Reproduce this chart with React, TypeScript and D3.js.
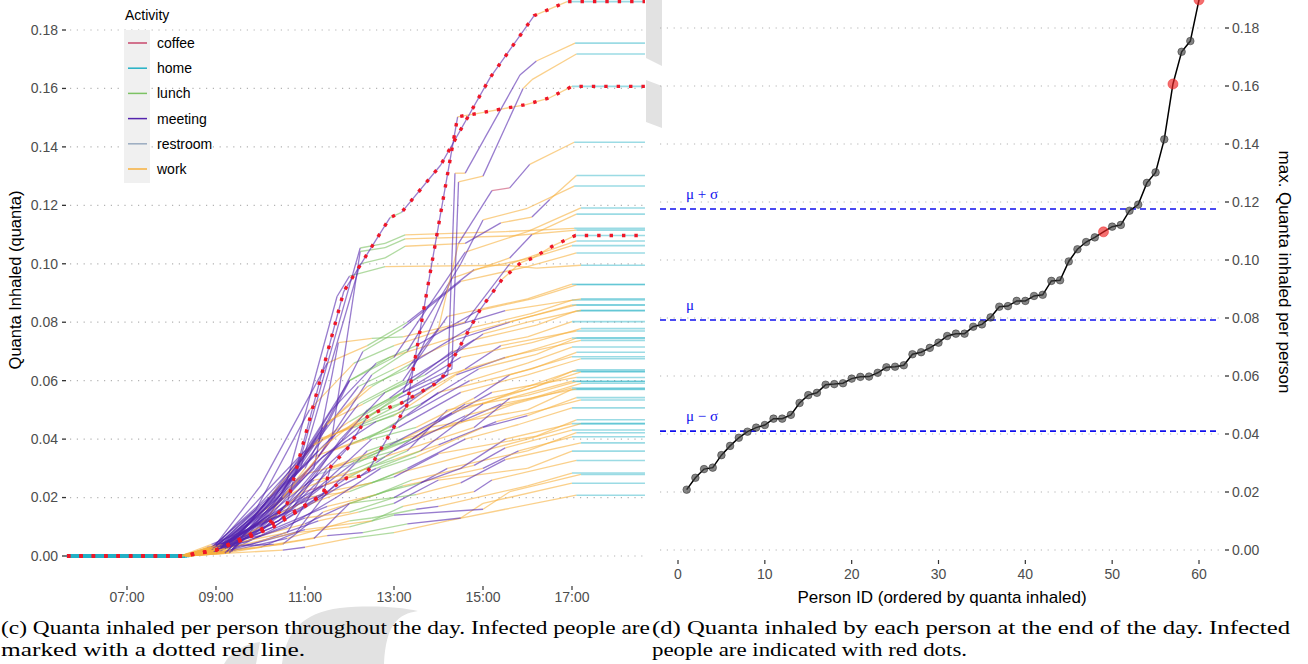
import React from 'react';
import * as d3 from 'd3';

// ---------- data ----------
const activities = ['coffee', 'home', 'lunch', 'meeting', 'restroom', 'work'];
const activityColors = ['#c8486c', '#22b0c4', '#7cc263', '#5424ad', '#9aabc0', '#f7b03e'];
const activityCode: Record<string, string> = { c: 'coffee', h: 'home', l: 'lunch', m: 'meeting', r: 'restroom', w: 'work' };

// final quanta inhaled by each person (sorted)
const finalQuanta = [
  0.0208, 0.0249, 0.0279, 0.0284, 0.0327, 0.0359, 0.0387, 0.0408, 0.0422, 0.0431,
  0.0453, 0.0453, 0.0466, 0.0507, 0.0534, 0.0542, 0.0570, 0.0572, 0.0575, 0.0591,
  0.0597, 0.0598, 0.0611, 0.0630, 0.0632, 0.0637, 0.0675, 0.0682, 0.0697, 0.0715,
  0.0738, 0.0746, 0.0746, 0.0770, 0.0778, 0.0802, 0.0839, 0.0841, 0.0859, 0.0859,
  0.0876, 0.0880, 0.0928, 0.0930, 0.0995, 0.1037, 0.1062, 0.1078, 0.1097, 0.1115,
  0.1121, 0.1170, 0.1191, 0.1266, 0.1302, 0.1416, 0.1607, 0.1718, 0.1755, 0.1897,
];
const infectedIds = [49, 57, 60];
const muValue = 0.0793;
const sigmaValue = 0.0383;
const dayStart = 5.65;
const dayEnd = 18.64;

// hour at which each person goes home
const homeArrival = [
  17.1, 17.0, 17.2, 17.0, 17.1, 17.0, 17.2, 17.0, 17.1, 17.0,
  17.2, 17.0, 17.1, 17.0, 17.2, 17.1, 17.0, 17.1, 17.0, 17.2,
  17.1, 17.0, 17.1, 17.2, 17.0, 17.1, 17.2, 17.0, 17.1, 17.0,
  17.2, 17.1, 17.0, 17.1, 17.2, 17.0, 17.1, 17.2, 17.0, 17.1,
  17.0, 17.2, 17.1, 17.0, 17.2, 17.1, 17.0, 17.1, 17.08, 17.1,
  17.05, 17.1, 17.2, 17.05, 17.1, 17.05, 17.0, 17.1, 17.07, 16.89,
];

type WP = [number, number, string];
// waypoints per person: [hour, quanta, activity code of the segment ending here]
const personPaths: WP[][] = [
  [[8.3,0,'h'],[9.3,0.001,'w'],[10.5,0.002,'w'],[11.0,0.003,'m'],[12.0,0.006,'w'],[13.0,0.008,'l'],[14.2,0.012,'w'],[15.5,0.016,'w']],
  [[8.2,0,'h'],[8.9,0.003,'w'],[10.3,0.004,'m'],[11.5,0.007,'w'],[12.3,0.008,'m'],[13.3,0.011,'l'],[14.5,0.013,'m'],[15.0,0.018,'w']],
  [[8.4,0,'h'],[9.2,0.0015,'w'],[10.0,0.003,'w'],[10.8,0.008,'m'],[12.0,0.010,'w'],[13.0,0.014,'l'],[15.0,0.016,'m'],[15.6,0.022,'w']],
  [[8.2,0,'h'],[9.4,0.002,'w'],[10.6,0.006,'m'],[12.0,0.012,'w'],[12.5,0.013,'l'],[13.5,0.016,'l'],[14.0,0.017,'m'],[16.0,0.024,'w']],
  [[8.3,0,'h'],[8.8,0.003,'w'],[9.8,0.004,'m'],[11.0,0.009,'m'],[12.5,0.012,'w'],[13.2,0.017,'l'],[14.8,0.022,'w'],[15.2,0.026,'m']],
  [[8.2,0,'h'],[9.1,0.001,'w'],[10.2,0.006,'m'],[11.3,0.012,'m'],[12.2,0.015,'w'],[13.0,0.018,'l'],[14.0,0.026,'m'],[16.0,0.030,'w']],
  [[8.3,0,'h'],[9.0,0.004,'w'],[10.0,0.007,'m'],[11.0,0.011,'w'],[12.0,0.018,'m'],[13.5,0.021,'l'],[14.5,0.025,'w'],[15.5,0.033,'m']],
  [[8.25,0,'h'],[9.3,0.002,'w'],[10.5,0.004,'w'],[11.4,0.015,'m'],[12.4,0.020,'w'],[13.2,0.024,'l'],[15.0,0.030,'w'],[15.8,0.036,'m']],
  [[8.2,0,'h'],[8.9,0.0025,'w'],[9.7,0.005,'m'],[11.0,0.013,'m'],[12.0,0.015,'w'],[13.0,0.020,'l'],[14.2,0.030,'m'],[16.0,0.036,'w']],
  [[8.35,0,'h'],[9.2,0.001,'w'],[10.4,0.010,'m'],[11.5,0.017,'m'],[12.6,0.021,'w'],[13.4,0.026,'l'],[14.8,0.031,'w'],[15.5,0.037,'m']],
  [[8.2,0,'h'],[9.0,0.003,'w'],[10.0,0.009,'m'],[11.0,0.020,'m'],[12.0,0.022,'w'],[13.0,0.028,'l'],[15.0,0.036,'w'],[16.0,0.040,'w']],
  [[8.3,0,'h'],[9.4,0.0015,'w'],[11.2,0.006,'w'],[12.0,0.018,'m'],[12.8,0.022,'l'],[13.6,0.025,'l'],[14.5,0.030,'m'],[15.5,0.040,'m']],
  [[8.2,0,'h'],[8.85,0.002,'w'],[10.1,0.012,'m'],[10.8,0.016,'m'],[12.2,0.024,'w'],[13.0,0.027,'l'],[14.0,0.035,'m'],[16.2,0.041,'w']],
  [[8.25,0,'h'],[9.15,0.0035,'w'],[10.3,0.014,'m'],[11.5,0.022,'m'],[12.5,0.025,'w'],[13.3,0.030,'l'],[14.6,0.040,'m'],[15.8,0.045,'w']],
  [[8.3,0,'h'],[9.0,0.001,'w'],[9.9,0.008,'m'],[11.2,0.026,'m'],[12.0,0.028,'w'],[13.0,0.033,'l'],[14.0,0.038,'w'],[15.3,0.046,'m']],
  [[8.2,0,'h'],[9.3,0.003,'w'],[10.6,0.010,'m'],[11.7,0.020,'m'],[12.7,0.030,'m'],[13.5,0.034,'l'],[15.0,0.044,'w'],[16.0,0.048,'m']],
  [[8.3,0,'h'],[8.9,0.0015,'w'],[10.0,0.010,'m'],[11.0,0.022,'m'],[12.0,0.027,'c'],[12.6,0.032,'l'],[13.8,0.044,'m'],[16.0,0.050,'w']],
  [[8.2,0,'h'],[9.2,0.004,'w'],[10.4,0.012,'m'],[11.6,0.030,'m'],[12.4,0.034,'w'],[13.4,0.040,'l'],[14.5,0.046,'w'],[15.4,0.052,'m']],
  [[8.4,0,'h'],[9.05,0.002,'w'],[10.8,0.008,'w'],[11.4,0.020,'m'],[12.4,0.036,'m'],[13.2,0.040,'l'],[14.4,0.045,'w'],[15.7,0.052,'w']],
  [[8.2,0,'h'],[8.8,0.001,'w'],[9.8,0.010,'m'],[10.9,0.018,'w'],[12.1,0.032,'m'],[13.0,0.036,'l'],[14.6,0.048,'m'],[16.1,0.054,'w']],
  [[8.3,0,'h'],[9.25,0.003,'w'],[10.2,0.014,'m'],[11.4,0.024,'m'],[12.4,0.030,'w'],[13.3,0.036,'l'],[14.2,0.050,'m'],[16.0,0.055,'w']],
  [[8.2,0,'h'],[9.0,0.0025,'w'],[10.5,0.016,'m'],[11.1,0.024,'w'],[12.0,0.029,'w'],[12.8,0.034,'l'],[14.8,0.044,'w'],[15.6,0.054,'m']],
  [[8.25,0,'h'],[9.35,0.0015,'w'],[10.0,0.012,'m'],[11.3,0.028,'m'],[12.2,0.032,'r'],[13.2,0.040,'l'],[14.0,0.046,'w'],[15.2,0.056,'m']],
  [[8.35,0,'h'],[8.95,0.003,'w'],[10.6,0.008,'w'],[11.5,0.030,'m'],[12.6,0.036,'w'],[13.4,0.040,'l'],[14.6,0.052,'m'],[16.0,0.057,'w']],
  [[8.2,0,'h'],[9.1,0.002,'w'],[10.1,0.014,'m'],[11.0,0.028,'m'],[12.0,0.032,'w'],[12.9,0.038,'l'],[14.3,0.049,'m'],[16.2,0.058,'w']],
  [[8.3,0,'h'],[9.4,0.004,'w'],[10.3,0.010,'m'],[11.8,0.024,'m'],[12.6,0.030,'m'],[13.6,0.036,'l'],[15.0,0.052,'m'],[16.0,0.058,'w']],
  [[8.2,0,'h'],[8.9,0.001,'w'],[10.0,0.016,'m'],[11.2,0.034,'m'],[12.3,0.040,'w'],[13.1,0.044,'l'],[14.5,0.056,'m'],[16.0,0.062,'w']],
  [[8.25,0,'h'],[9.2,0.0025,'w'],[10.4,0.012,'m'],[11.5,0.026,'m'],[12.5,0.040,'m'],[13.5,0.044,'l'],[14.8,0.054,'w'],[15.6,0.062,'m']],
  [[8.3,0,'h'],[9.0,0.0035,'w'],[9.9,0.014,'m'],[11.0,0.024,'w'],[12.0,0.038,'m'],[12.9,0.044,'l'],[14.0,0.056,'m'],[16.1,0.064,'w']],
  [[8.2,0,'h'],[9.3,0.0015,'w'],[10.6,0.018,'m'],[11.6,0.036,'m'],[12.4,0.040,'w'],[13.3,0.048,'l'],[14.7,0.060,'m'],[16.0,0.066,'w']],
  [[8.35,0,'h'],[8.85,0.002,'w'],[10.2,0.016,'m'],[11.1,0.030,'m'],[12.2,0.044,'m'],[13.0,0.048,'l'],[14.4,0.062,'w'],[15.5,0.068,'m']],
  [[8.2,0,'h'],[9.15,0.003,'w'],[10.0,0.010,'w'],[11.4,0.034,'m'],[12.6,0.046,'m'],[13.6,0.052,'l'],[14.9,0.064,'m'],[16.2,0.069,'w']],
  [[8.3,0,'h'],[9.0,0.001,'w'],[10.4,0.020,'m'],[11.3,0.040,'m'],[12.1,0.044,'w'],[13.1,0.050,'l'],[14.2,0.062,'m'],[16.0,0.070,'w']],
  [[8.25,0,'h'],[9.25,0.0025,'w'],[10.1,0.018,'m'],[11.7,0.042,'m'],[12.5,0.047,'w'],[13.4,0.054,'l'],[14.6,0.064,'w'],[15.4,0.072,'m']],
  [[8.2,0,'h'],[8.9,0.004,'w'],[10.5,0.014,'m'],[11.2,0.028,'m'],[12.4,0.050,'m'],[13.2,0.056,'l'],[14.5,0.068,'m'],[16.1,0.073,'w']],
  [[8.3,0,'h'],[9.1,0.0015,'w'],[9.8,0.012,'m'],[11.0,0.036,'m'],[12.0,0.046,'w'],[12.9,0.054,'l'],[14.3,0.070,'m'],[16.0,0.075,'w']],
  [[8.2,0,'h'],[9.35,0.002,'w'],[10.3,0.020,'m'],[11.5,0.046,'m'],[12.3,0.052,'w'],[13.3,0.060,'l'],[14.8,0.074,'m'],[16.2,0.079,'w']],
  [[8.35,0,'h'],[9.0,0.003,'w'],[10.7,0.016,'m'],[11.8,0.040,'m'],[12.8,0.056,'m'],[13.7,0.062,'l'],[15.0,0.076,'m'],[16.0,0.080,'w']],
  [[8.2,0,'h'],[8.8,0.0015,'w'],[10.0,0.018,'m'],[11.3,0.040,'m'],[12.2,0.058,'m'],[13.0,0.064,'l'],[14.4,0.074,'w'],[15.6,0.080,'m']],
  [[8.3,0,'h'],[9.2,0.0035,'w'],[10.2,0.014,'m'],[11.0,0.030,'w'],[12.0,0.060,'m'],[12.9,0.068,'l'],[14.6,0.076,'w'],[15.8,0.081,'w']],
  [[8.25,0,'h'],[9.05,0.002,'w'],[10.5,0.022,'m'],[11.4,0.044,'m'],[12.5,0.058,'w'],[13.4,0.066,'l'],[14.7,0.078,'m'],[16.1,0.083,'w']],
  [[8.2,0,'h'],[8.9,0.003,'w'],[9.9,0.016,'m'],[11.1,0.050,'m'],[12.1,0.066,'w'],[13.0,0.072,'l'],[14.2,0.078,'w'],[15.5,0.084,'m']],
  [[8.3,0,'h'],[9.3,0.001,'w'],[10.4,0.020,'m'],[11.6,0.050,'m'],[12.6,0.066,'m'],[13.5,0.072,'l'],[14.9,0.084,'m'],[16.1,0.088,'w']],
  [[8.2,0,'h'],[9.1,0.0025,'w'],[10.1,0.016,'m'],[11.1,0.030,'m'],[12.2,0.052,'m'],[13.2,0.060,'l'],[14.2,0.082,'m'],[16.0,0.088,'w']],
  [[8.35,0,'h'],[9.0,0.003,'w'],[10.6,0.026,'m'],[11.72,0.0888,'m'],[12.0,0.0958,'m'],[12.8,0.099,'l'],[15.5,0.0995,'w'],[16.2,0.0985,'w']],
  [[8.2,0,'h'],[9.25,0.0015,'w'],[10.2,0.020,'m'],[11.3,0.040,'w'],[12.3,0.070,'m'],[13.2,0.078,'l'],[14.5,0.094,'m'],[16.0,0.099,'w']],
  [[8.3,0,'h'],[8.9,0.002,'w'],[10.0,0.024,'m'],[11.5,0.066,'m'],[12.4,0.072,'w'],[13.3,0.080,'l'],[14.8,0.098,'m'],[16.1,0.102,'w']],
  [[8.2,0,'h'],[9.15,0.004,'w'],[10.4,0.018,'m'],[11.2,0.030,'m'],[11.75,0.073,'m'],[12.5,0.0745,'w'],[13.2,0.075,'l'],[14.6,0.080,'w'],[15.6,0.100,'m']],
  [[8.25,0,'h'],[9.0,0.002,'w'],[10.4,0.012,'m'],[11.4,0.021,'m'],[11.58,0.0306,'m'],[11.96,0.0369,'m'],[12.4,0.0477,'m'],[12.64,0.0495,'w'],[13.16,0.0523,'l'],[13.92,0.0589,'m'],[14.12,0.0618,'m'],[14.94,0.0844,'m'],[15.43,0.0947,'m'],[15.85,0.1004,'w'],[16.11,0.1019,'w'],[16.58,0.1062,'w']],
  [[8.2,0,'h'],[9.1,0.003,'w'],[10.0,0.012,'m'],[10.9,0.026,'m'],[11.6,0.040,'c'],[12.24,0.1042,'m'],[12.8,0.1055,'l'],[13.25,0.1085,'l'],[15.6,0.1095,'w']],
  [[8.3,0,'h'],[8.95,0.0015,'w'],[10.2,0.014,'m'],[10.8,0.028,'m'],[12.24,0.1054,'m'],[12.8,0.107,'l'],[13.25,0.1099,'l'],[15.5,0.111,'w']],
  [[8.2,0,'h'],[9.3,0.0025,'w'],[10.3,0.018,'m'],[11.4,0.040,'m'],[12.3,0.046,'w'],[13.2,0.056,'l'],[14.3,0.095,'m'],[15.6,0.102,'w'],[16.1,0.110,'m']],
  [[8.25,0,'h'],[9.0,0.0035,'w'],[10.0,0.020,'m'],[11.0,0.036,'m'],[12.0,0.060,'m'],[13.0,0.068,'l'],[14.6,0.104,'m'],[16.0,0.111,'w']],
  [[8.3,0,'h'],[9.2,0.001,'w'],[10.5,0.020,'m'],[11.3,0.034,'w'],[12.5,0.062,'m'],[13.3,0.070,'l'],[14.5,0.100,'m'],[15.0,0.115,'m'],[16.0,0.119,'w']],
  [[8.2,0,'h'],[8.9,0.002,'w'],[10.1,0.018,'m'],[10.9,0.030,'m'],[12.24,0.1000,'m'],[12.8,0.1020,'l'],[13.25,0.1060,'l'],[14.6,0.107,'w'],[15.4,0.114,'m'],[16.1,0.116,'w'],[16.5,0.122,'m']],
  [[8.2,0,'h'],[9.1,0.003,'w'],[10.3,0.020,'m'],[11.5,0.045,'m'],[12.4,0.058,'w'],[13.3,0.064,'l'],[14.0,0.078,'m'],[14.45,0.107,'w'],[15.2,0.125,'m'],[15.6,0.126,'c'],[16.05,0.134,'m']],
  [[8.3,0,'h'],[9.0,0.002,'w'],[10.3,0.010,'m'],[11.2,0.019,'m'],[11.94,0.0267,'m'],[12.24,0.0273,'w'],[12.43,0.0295,'m'],[13.29,0.0516,'m'],[14.43,0.1503,'m'],[14.86,0.1514,'w'],[15.97,0.1545,'w'],[16.5,0.1568,'w']],
  [[8.2,0,'h'],[9.2,0.0025,'w'],[10.2,0.018,'m'],[11.3,0.036,'m'],[12.3,0.048,'w'],[13.2,0.056,'l'],[14.3,0.064,'m'],[14.45,0.128,'m'],[15.0,0.130,'w'],[15.9,0.160,'m'],[16.1,0.163,'w']],
  [[8.25,0,'h'],[8.95,0.0015,'w'],[10.0,0.016,'m'],[11.2,0.038,'m'],[12.2,0.046,'w'],[13.1,0.054,'l'],[14.21,0.062,'m'],[14.37,0.131,'m'],[14.6,0.131,'w'],[15.83,0.1646,'m'],[16.2,0.1694,'m']],
  [[8.2,0,'h'],[9.0,0.002,'w'],[10.0,0.008,'m'],[10.6,0.018,'m'],[11.87,0.0905,'m'],[12.91,0.1158,'m'],[13.17,0.1176,'l'],[14.05,0.1338,'m'],[15.16,0.1637,'m'],[16.15,0.1849,'m']],
];

const timeTicks = [7, 9, 11, 13, 15, 17];
const quantaTicks = [0, 0.02, 0.04, 0.06, 0.08, 0.1, 0.12, 0.14, 0.16, 0.18];
const personTicks = [0, 10, 20, 30, 40, 50, 60];

const SANS = '"Liberation Sans", Arial, Helvetica, sans-serif';
const SERIF = '"Liberation Serif", "Times New Roman", serif';

const colorOf = (code: string) => activityColors[activities.indexOf(activityCode[code])];
const fmtTime = (h: number) => `${String(h).padStart(2, '0')}:00`;
const fmtQ = d3.format('.2f');

export default function App() {
  const xT = d3.scaleLinear().domain([7, 17]).range([127, 572]);
  const yL = d3.scaleLinear().domain([0, 0.18]).range([556, 30]);
  const xP = d3.scaleLinear().domain([0, 60]).range([678, 1199]);
  const yR = d3.scaleLinear().domain([0, 0.18]).range([550, 28]);

  const fullPaths: WP[][] = personPaths.map((p, i) => [
    [dayStart, 0, 'h'] as WP,
    ...p,
    [homeArrival[i], finalQuanta[i], 'w'] as WP,
    [dayEnd, finalQuanta[i], 'h'] as WP,
  ]);

  const lineGen = d3.line<WP>().x(d => xT(d[0])).y(d => yL(d[1]));
  const rLine = d3.line<number>().x((_, i) => xP(i + 1)).y(d => yR(d));

  const segs: JSX.Element[] = [];
  fullPaths.forEach((p, pi) => {
    for (let k = 1; k < p.length; k++) {
      const a = p[k - 1], b = p[k];
      const isHome = b[2] === 'h';
      const early = isHome && k === 1;
      segs.push(
        <line key={`${pi}-${k}`} x1={xT(a[0])} y1={yL(a[1])} x2={xT(b[0])} y2={yL(b[1])}
          stroke={colorOf(b[2])} strokeWidth={early ? 2.6 : isHome ? 1.6 : 1.3}
          strokeOpacity={early ? 0.7 : isHome ? 0.45 : 0.6} />
      );
    }
  });

  const gridDots = '1.2 5.6';

  return (
    <svg width={1308} height={664} style={{ position: 'absolute', left: 0, top: 0, display: 'block', background: '#fff' }}>
      <defs>
        <clipPath id="leftClip"><rect x={62} y={0} width={586} height={600} /></clipPath>
      </defs>
      {/* watermark fragments */}
      <g fill="#e2e2e2">
        <path d="M646,0 L662,0 L662,66 L646,58 Z" />
        <path d="M646,80 L662,86 L662,128 L646,122 Z" />
        <path d="M282,664 C286,632 302,613 340,608 C370,605 400,607 418,611 C398,614 386,624 384,664 Z" />
        <path d="M224,664 C230,652 244,644 260,642 L256,664 Z" />
      </g>

      {/* ---------- left panel ---------- */}
      <g>
        {quantaTicks.map(t => (
          <g key={t}>
            <line x1={70} x2={645} y1={yL(t)} y2={yL(t)} stroke="#b3b3b3" strokeWidth={1.2} strokeDasharray={gridDots} />
            <line x1={62} x2={66} y1={yL(t)} y2={yL(t)} stroke="#333" strokeWidth={1.3} />
            <text x={58} y={yL(t)} dy="0.35em" textAnchor="end" fontFamily={SANS} fontSize={14} fill="#4d4d4d">{fmtQ(t)}</text>
          </g>
        ))}
        {timeTicks.map(t => (
          <g key={t}>
            <line x1={xT(t)} x2={xT(t)} y1={586} y2={590} stroke="#333" strokeWidth={1.2} />
            <text x={xT(t)} y={602} textAnchor="middle" fontFamily={SANS} fontSize={14} fill="#4d4d4d">{fmtTime(t)}</text>
          </g>
        ))}
        <text transform="translate(21,280) rotate(-90)" textAnchor="middle" fontFamily={SANS} fontSize={16.5} fill="#000">Quanta Inhaled (quanta)</text>

        <g clipPath="url(#leftClip)">
          {segs}
          {infectedIds.map(id => (
            <path key={id} d={lineGen(fullPaths[id - 1]) || ''} fill="none" stroke="#ee1628"
              strokeWidth={3.4} strokeDasharray="3.4 9" />
          ))}
        </g>

        {/* legend */}
        <text x={125} y={20} fontFamily={SANS} fontSize={14} fill="#000">Activity</text>
        <rect x={124} y={30} width={26} height={153} fill="#f0f0f0" />
        {activities.map((a, i) => (
          <g key={a}>
            <line x1={128} x2={147} y1={43 + i * 25.2} y2={43 + i * 25.2} stroke={activityColors[i]} strokeWidth={1.5} />
            <text x={157} y={43 + i * 25.2} dy="0.35em" fontFamily={SANS} fontSize={14} fill="#000">{a}</text>
          </g>
        ))}
      </g>

      {/* ---------- right panel ---------- */}
      <g>
        {quantaTicks.map(t => (
          <g key={t}>
            <line x1={660} x2={1220} y1={yR(t)} y2={yR(t)} stroke="#b3b3b3" strokeWidth={1.2} strokeDasharray={gridDots} />
            <line x1={1225} x2={1229} y1={yR(t)} y2={yR(t)} stroke="#333" strokeWidth={1.3} />
            <text x={1232} y={yR(t)} dy="0.35em" fontFamily={SANS} fontSize={14} fill="#4d4d4d">{fmtQ(t)}</text>
          </g>
        ))}
        {personTicks.map(t => (
          <g key={t}>
            <line x1={xP(t)} x2={xP(t)} y1={560} y2={564} stroke="#333" strokeWidth={1.2} />
            <text x={xP(t)} y={579} textAnchor="middle" fontFamily={SANS} fontSize={14} fill="#4d4d4d">{t}</text>
          </g>
        ))}
        <text x={942} y={603} textAnchor="middle" fontFamily={SANS} fontSize={17} fill="#000">Person ID (ordered by quanta inhaled)</text>
        <text transform="translate(1279,272) rotate(90)" textAnchor="middle" fontFamily={SANS} fontSize={17} fill="#000">max. Quanta inhaled per person</text>

        {[
          { v: muValue + sigmaValue, label: 'μ + σ' },
          { v: muValue, label: 'μ' },
          { v: muValue - sigmaValue, label: 'μ − σ' },
        ].map(d => (
          <g key={d.label}>
            <line x1={660} x2={1220} y1={yR(d.v)} y2={yR(d.v)} stroke="#1010ee" strokeWidth={1.6} strokeDasharray="6 4" />
            <text x={686} y={yR(d.v) - 10} fontFamily={SERIF} fontSize={15} fill="#1010ee">{d.label}</text>
          </g>
        ))}

        <path d={rLine(finalQuanta) || ''} fill="none" stroke="#000" strokeWidth={1.5} />
        {finalQuanta.map((v, i) => {
          const inf = infectedIds.includes(i + 1);
          return (
            <circle key={i} cx={xP(i + 1)} cy={yR(v)} r={inf ? 5 : 3.8}
              fill={inf ? '#ee2222' : '#444'} fillOpacity={0.65}
              stroke={inf ? '#ee2222' : '#222'} strokeOpacity={0.6} strokeWidth={0.8} />
          );
        })}
      </g>

      {/* ---------- captions ---------- */}
      <g fontFamily={SERIF} fontSize={19} fill="#000">
        <text x={1} y={634} textLength={649} lengthAdjust="spacingAndGlyphs">(c) Quanta inhaled per person throughout the day. Infected people are</text>
        <text x={1} y={656} textLength={304} lengthAdjust="spacingAndGlyphs">marked with a dotted red line.</text>
        <text x={652} y={634} textLength={638} lengthAdjust="spacingAndGlyphs">(d) Quanta inhaled by each person at the end of the day.  Infected</text>
        <text x={652} y={656} textLength={315} lengthAdjust="spacingAndGlyphs">people are indicated with red dots.</text>
      </g>
    </svg>
  );
}
